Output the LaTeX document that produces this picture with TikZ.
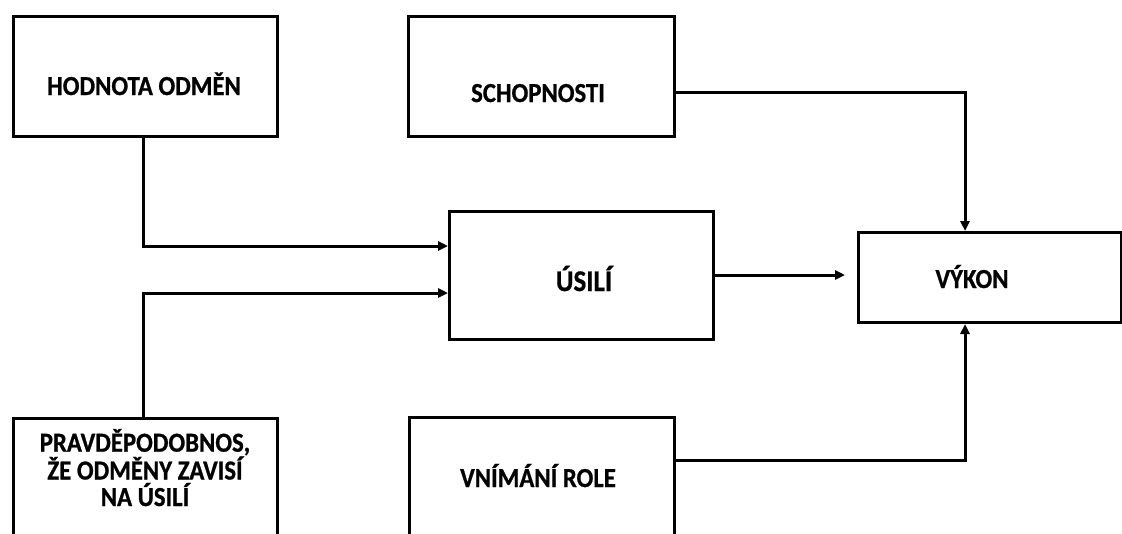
\documentclass[tikz,border=0pt]{standalone}
\usepackage{fontspec}
\setmainfont{Carlito}[FakeStretch=0.9, BoldFeatures={FakeBold=0.8}]
\usetikzlibrary{arrows.meta}
\begin{document}
\begin{tikzpicture}[x=1pt,y=1pt,
  box/.style={draw=black, line width=3pt, fill=white, inner sep=0pt, anchor=north west},
  lbl/.style={font=\bfseries\fontsize{27.5}{26.5}\selectfont, align=center, inner sep=0pt, anchor=base, text=black},
  big/.style={lbl, font=\bfseries\fontsize{30}{30}\selectfont},
  ln/.style={line width=3pt},
  arr/.style={ln, -{Triangle[length=10pt,width=9pt]}}]
\useasboundingbox (0,0) rectangle (1122,-533);
\fill[white] (0,0) rectangle (1122,-533);
\clip (0,0) rectangle (1122,-533);
% boxes
\node[box, minimum width=264, minimum height=120] (hod)   at (12,-15) {};
\node[box, minimum width=266, minimum height=120] (schop) at (407,-15) {};
\node[box, minimum width=264, minimum height=128] (usili) at (448,-210) {};
\node[box, minimum width=263, minimum height=90]  (vykon) at (857,-231) {};
\node[box, minimum width=264, minimum height=150] (prav)  at (12,-417) {};
\node[box, minimum width=265, minimum height=150] (vnim)  at (408,-416) {};
% labels
\node[lbl] (hodT)   at (144,-95)  {HODNOTA ODMĚN};
\node[lbl] (schopT) at (538,-102) {SCHOPNOSTI};
\node[big] (usiliT) at (584,-291) {ÚSILÍ};
\node[lbl] (vykonT) at (972,-288) {VÝKON};
\node[lbl] (vnimT)  at (538,-487) {VNÍMÁNÍ ROLE};
\node[lbl] (pravT)  at (145,-506) {PRAVDĚPODOBNOS,\\ŽE ODMĚNY ZAVISÍ\\NA ÚSILÍ};
% helper coordinates
\coordinate (in1) at (0,-246);
\coordinate (in2) at (0,-293);
\coordinate (out1) at (0,-275);
\coordinate (ax) at (965,0);
\coordinate (ys) at (0,-92);
\coordinate (yv) at (0,-460);
% connectors
\draw[arr] (hod.south -| 143,0) |- (usili.west |- in1);
\draw[arr] (prav.north -| 143,0) |- (usili.west |- in2);
\draw[arr, shorten >=12pt] (usili.east |- out1) -- (vykon.west |- out1);
\draw[arr] (schop.east |- ys) -| (ax |- vykon.north);
\draw[arr] (vnim.east |- yv) -| (ax |- vykon.south);
\end{tikzpicture}
\end{document}
